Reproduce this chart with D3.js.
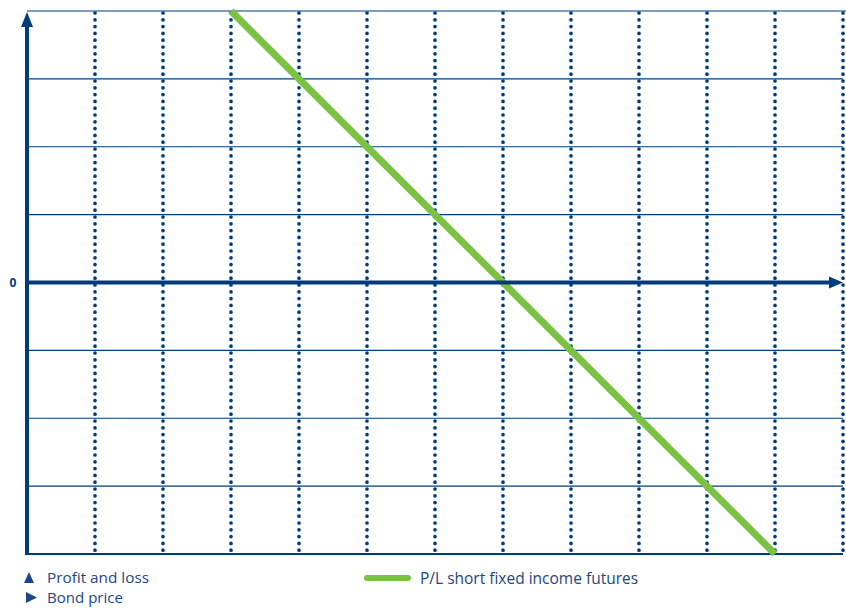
<!DOCTYPE html>
<html>
<head>
<meta charset="utf-8">
<script src="https://cdn.jsdelivr.net/npm/d3@7"></script>
<style>
  html, body { margin: 0; padding: 0; background: #fff; }
  svg { display: block; font-family: "Open Sans", sans-serif; }
</style>
</head>
<body>
<svg id="chart" width="846" height="608"></svg>
<script>
// Payoff of a short fixed income futures position against the bond price
const priceGrid = [1, 2, 3, 4, 5, 6, 7, 8, 9, 10, 11, 12];
const pnlGrid = [-4, -3, -2, -1, 1, 2, 3, 4];
const zeroLabel = ["0"];
const bondPrice = [3, 11];
const pnlShortFutures = [4, -4];
const legendAxes = ["Profit and loss", "Bond price"];
const legendSeries = ["P/L short fixed income futures"];

const navy = "#003b7b";
const green = "#7bc143";

const svg = d3.select("#chart");
const x = d3.scaleLinear().domain([0, 12]).range([27, 843]);
const y = d3.scaleLinear().domain([-4, 4]).range([554, 11]);

// horizontal grid lines
svg.append("g").selectAll("line").data(pnlGrid).join("line")
  .attr("x1", x(0)).attr("x2", d => d === 4 ? 846 : x(12))
  .attr("y1", d => y(d)).attr("y2", d => y(d))
  .attr("stroke", navy)
  .attr("stroke-width", d => d === -4 ? 2 : 1.2);

// dotted vertical grid lines
svg.append("g").selectAll("line").data(priceGrid).join("line")
  .attr("x1", d => x(d)).attr("x2", d => x(d))
  .attr("y1", y(4) + 2).attr("y2", y(-4))
  .attr("stroke", navy)
  .attr("stroke-width", 3.7)
  .attr("stroke-linecap", "round")
  .attr("stroke-dasharray", "0 6.8");

// payoff line
const pts = bondPrice.map((p, i) => [p, pnlShortFutures[i]]);
svg.append("path")
  .datum(pts)
  .attr("d", d3.line().x(d => x(d[0])).y(d => y(d[1])))
  .attr("fill", "none")
  .attr("stroke", green)
  .attr("stroke-width", 7);

// axes with arrowheads
const axisG = svg.append("g");
axisG.append("line")
  .attr("x1", x(0)).attr("x2", x(0))
  .attr("y1", y(-4) + 1).attr("y2", y(4) + 12)
  .attr("stroke", navy).attr("stroke-width", 4);
axisG.append("path")
  .attr("d", `M${x(0)},${y(4) + 1} L${x(0) - 6},${y(4) + 16} L${x(0) + 6},${y(4) + 16} Z`)
  .attr("fill", navy);

axisG.append("line")
  .attr("x1", x(0) - 2).attr("x2", x(12) - 10)
  .attr("y1", y(0)).attr("y2", y(0))
  .attr("stroke", navy).attr("stroke-width", 4);
axisG.append("path")
  .attr("d", `M${x(12)},${y(0)} L${x(12) - 14},${y(0) - 6} L${x(12) - 14},${y(0) + 6} Z`)
  .attr("fill", navy);

svg.append("text")
  .data(zeroLabel)
  .attr("x", 13).attr("y", y(0))
  .attr("dy", "0.35em")
  .attr("text-anchor", "middle")
  .attr("font-size", 12).attr("font-weight", "bold")
  .attr("fill", navy)
  .text(d => d);

// legend: axis markers
const lg = svg.append("g").attr("fill", "#1d4685");
lg.append("path").attr("d", "M24,583 L29,572 L34,583 Z");
lg.append("path").attr("d", "M26,592 L37,597.5 L26,603 Z");
lg.selectAll("text").data(legendAxes).join("text")
  .attr("x", 47).attr("y", (d, i) => 583 + i * 19.5)
  .attr("font-size", 14)
  .attr("textLength", (d, i) => i === 0 ? 102 : 76)
  .attr("lengthAdjust", "spacingAndGlyphs")
  .text(d => d);

// legend: series
svg.append("line")
  .attr("x1", 367).attr("x2", 408)
  .attr("y1", 578).attr("y2", 578)
  .attr("stroke", green).attr("stroke-width", 6)
  .attr("stroke-linecap", "round");
svg.append("text")
  .data(legendSeries)
  .attr("x", 420).attr("y", 584)
  .attr("font-size", 15.5)
  .attr("fill", "#1d4685")
  .text(d => d);
</script>
</body>
</html>
